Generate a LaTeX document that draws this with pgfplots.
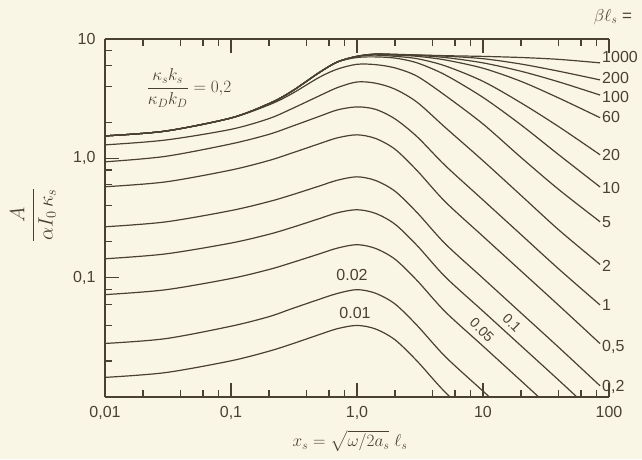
\documentclass[border=0pt]{standalone}
\usepackage{amsmath}
\usepackage{fontspec}
\setmainfont{Liberation Sans}
\usepackage{pgfplots}
\pgfplotsset{compat=1.18}
\definecolor{paper}{HTML}{FAF6E6}
\definecolor{ink}{HTML}{4A4034}

\begin{document}
\begin{tikzpicture}[x=1pt,y=1pt]
\path[use as bounding box,fill=paper] (-105,-62) rectangle (537,397);
\begin{axis}[at={(0,0)},anchor=south west,scale only axis,
  width=504pt,height=358pt,
  xmode=log,ymode=log,xmin=0.01,xmax=100,ymin=0.01,ymax=10,
  axis x line=box,axis y line=left,
  axis line style={ink,line width=1.4pt,-},
  xtick={0.01,0.1,1,10,100},
  xticklabels={{\textrm{0,01}},{\textrm{0,1}},{\textrm{1,0}},{\textrm{10}},{\textrm{100}}},
  minor xtick={0.02,0.04,0.06,0.08,0.2,0.4,0.6,0.8,2,4,6,8,20,40,60,80},
  ytick={0.1,1,10},
  yticklabels={{\textrm{0,1}},{\textrm{1,0}},{\textrm{10}}},
  minor ytick={0.02,0.04,0.06,0.08,0.2,0.4,0.6,0.8,2,4,6,8},
  xtick pos=both,ytick pos=left,xticklabel pos=lower,
  tick align=inside,
  major tick length=14pt,minor tick length=7pt,
  every tick/.style={ink,line width=1.3pt},
  every minor tick/.style={ink,line width=1.2pt},
  tick label style={font=\fontsize{16}{18}\selectfont,text=ink},
  xticklabel style={yshift=-6pt},
  yticklabel style={xshift=-6pt},
  every axis plot post/.append style={ink,solid,line width=1.2pt,smooth,tension=0.5,mark=none},
  clip=true]
% beta l_s = 0.01
\addplot coordinates {(0.01,0.0146)(0.03,0.0160)(0.1,0.0201)(0.2,0.0242)(0.3,0.0277)(0.5,0.0333)(0.7,0.0374)(1,0.0398)(1.4,0.0372)(2,0.0302)(3,0.0200)(5,0.0110)(10,0.0056)};
% 0.02
\addplot coordinates {(0.01,0.0281)(0.03,0.0308)(0.1,0.0392)(0.2,0.0471)(0.3,0.0547)(0.5,0.0658)(0.7,0.0738)(1,0.0794)(1.4,0.0741)(2,0.0603)(3,0.0398)(5,0.0219)(10,0.0112)(20,0.00575)};
% 0.05
\addplot coordinates {(0.01,0.0721)(0.03,0.0791)(0.1,0.0984)(0.2,0.117)(0.3,0.133)(0.5,0.158)(0.7,0.177)(1,0.189)(1.4,0.176)(2,0.143)(3,0.0946)(5,0.0520)(10,0.0267)(20,0.0137)(40,0.0070)};
% 0.1
\addplot coordinates {(0.01,0.144)(0.03,0.158)(0.1,0.195)(0.2,0.231)(0.3,0.262)(0.5,0.312)(0.7,0.350)(1,0.371)(1.4,0.346)(2,0.281)(3,0.186)(5,0.102)(10,0.0524)(20,0.0269)(40,0.0138)(85,0.0066)};
% 0.2
\addplot coordinates {(0.01,0.267)(0.03,0.293)(0.1,0.365)(0.2,0.434)(0.3,0.492)(0.5,0.585)(0.7,0.656)(1,0.700)(1.4,0.653)(2,0.531)(3,0.351)(5,0.193)(10,0.0989)(20,0.0507)(40,0.0260)(85,0.0124)};
% 0.5
\addplot coordinates {(0.01,0.578)(0.03,0.634)(0.1,0.798)(0.2,0.959)(0.3,1.102)(0.5,1.324)(0.7,1.486)(1,1.574)(1.4,1.469)(2,1.194)(3,0.789)(5,0.434)(10,0.222)(20,0.114)(40,0.0585)(85,0.0280)};
% 1
\addplot coordinates {(0.01,0.935)(0.03,1.038)(0.1,1.321)(0.2,1.589)(0.3,1.845)(0.5,2.244)(0.7,2.547)(1,2.698)(1.4,2.576)(2,2.143)(3,1.517)(5,0.873)(10,0.448)(20,0.230)(40,0.118)(85,0.0590)};
% 2
\addplot coordinates {(0.01,1.297)(0.03,1.422)(0.1,1.750)(0.2,2.153)(0.3,2.588)(0.5,3.334)(0.7,3.917)(1,4.365)(1.4,4.266)(2,3.802)(3,2.951)(5,1.820)(10,0.955)(20,0.490)(40,0.251)(85,0.129)};
% 5
\addplot coordinates {(0.01,1.542)(0.03,1.690)(0.1,2.178)(0.2,2.805)(0.3,3.451)(0.5,4.764)(0.7,5.598)(1,6.138)(1.4,6.10)(2,5.728)(3,4.875)(5,3.373)(10,1.941)(20,1.019)(40,0.547)(85,0.294)};
% 10
\addplot coordinates {(0.01,1.542)(0.03,1.690)(0.1,2.178)(0.2,2.871)(0.3,3.614)(0.5,5.224)(0.7,6.427)(1,7.0)(1.4,7.08)(2,6.92)(3,6.31)(5,5.01)(10,3.24)(20,1.91)(40,1.07)(85,0.575)};
% 20
\addplot coordinates {(0.01,1.542)(0.03,1.690)(0.1,2.178)(0.2,2.871)(0.3,3.614)(0.5,5.224)(0.7,6.427)(1,7.16)(1.4,7.33)(2,7.16)(3,6.84)(5,5.96)(10,4.42)(20,2.92)(40,1.84)(85,1.07)};
% 60
\addplot coordinates {(0.01,1.542)(0.03,1.690)(0.1,2.178)(0.2,2.871)(0.3,3.614)(0.5,5.224)(0.7,6.427)(1,7.16)(1.4,7.41)(2,7.33)(3,7.16)(5,6.68)(10,5.69)(20,4.42)(40,3.20)(85,2.19)};
% 100
\addplot coordinates {(0.01,1.542)(0.03,1.690)(0.1,2.178)(0.2,2.871)(0.3,3.614)(0.5,5.224)(0.7,6.427)(1,7.16)(1.4,7.45)(2,7.38)(3,7.28)(5,7.0)(10,6.31)(20,5.37)(40,4.37)(85,3.39)};
% 200
\addplot coordinates {(0.01,1.542)(0.03,1.690)(0.1,2.178)(0.2,2.871)(0.3,3.614)(0.5,5.224)(0.7,6.427)(1,7.16)(1.4,7.48)(2,7.41)(3,7.33)(5,7.19)(10,6.84)(20,6.17)(40,5.37)(85,4.54)};
% 1000
\addplot coordinates {(0.01,1.542)(0.03,1.690)(0.1,2.178)(0.2,2.871)(0.3,3.614)(0.5,5.224)(0.7,6.427)(1,7.16)(1.4,7.50)(2,7.45)(3,7.35)(5,7.25)(10,7.15)(20,7.0)(40,6.75)(85,6.31)};
\end{axis}
% labels
\begin{scope}[every node/.style={text=ink,font=\fontsize{16}{18}\selectfont}]
\node[rotate=90] at (-72,182) {\fontsize{20}{22}\selectfont$\dfrac{A}{\alpha I_0\,\kappa_s}$};
\node at (245,-44) {\fontsize{17}{19}\selectfont$x_s = \sqrt{\omega/2a_s}\;\ell_s$};
\node at (84,309) {\fontsize{17}{19}\selectfont$\dfrac{\kappa_s k_s}{\kappa_D k_D} = 0{,}2$};
\node at (508,380) {\fontsize{17}{19}\selectfont$\beta\ell_s$ =};
\begin{scope}[every node/.append style={anchor=west,inner sep=1pt,font=\fontsize{16}{18}\selectfont}]
\node at (496,340) {1000};
\node at (496,319) {200};
\node at (496,300) {100};
\node at (496,280) {60};
\node at (496,242) {20};
\node at (496,209) {10};
\node at (496,175) {5};
\node at (496,131) {2};
\node at (496,92) {1};
\node at (496,50) {0,5};
\node at (496,10) {0,2};
\end{scope}
\node at (247,122) {0.02};
\node at (250,84) {0.01};
\node[rotate=-45,inner sep=0pt,font=\fontsize{14}{16}\selectfont] at (407,74) {0.1};
\node[rotate=-45,inner sep=0pt,font=\fontsize{14}{16}\selectfont] at (377,67) {0.05};
\end{scope}
\end{tikzpicture}
\end{document}
